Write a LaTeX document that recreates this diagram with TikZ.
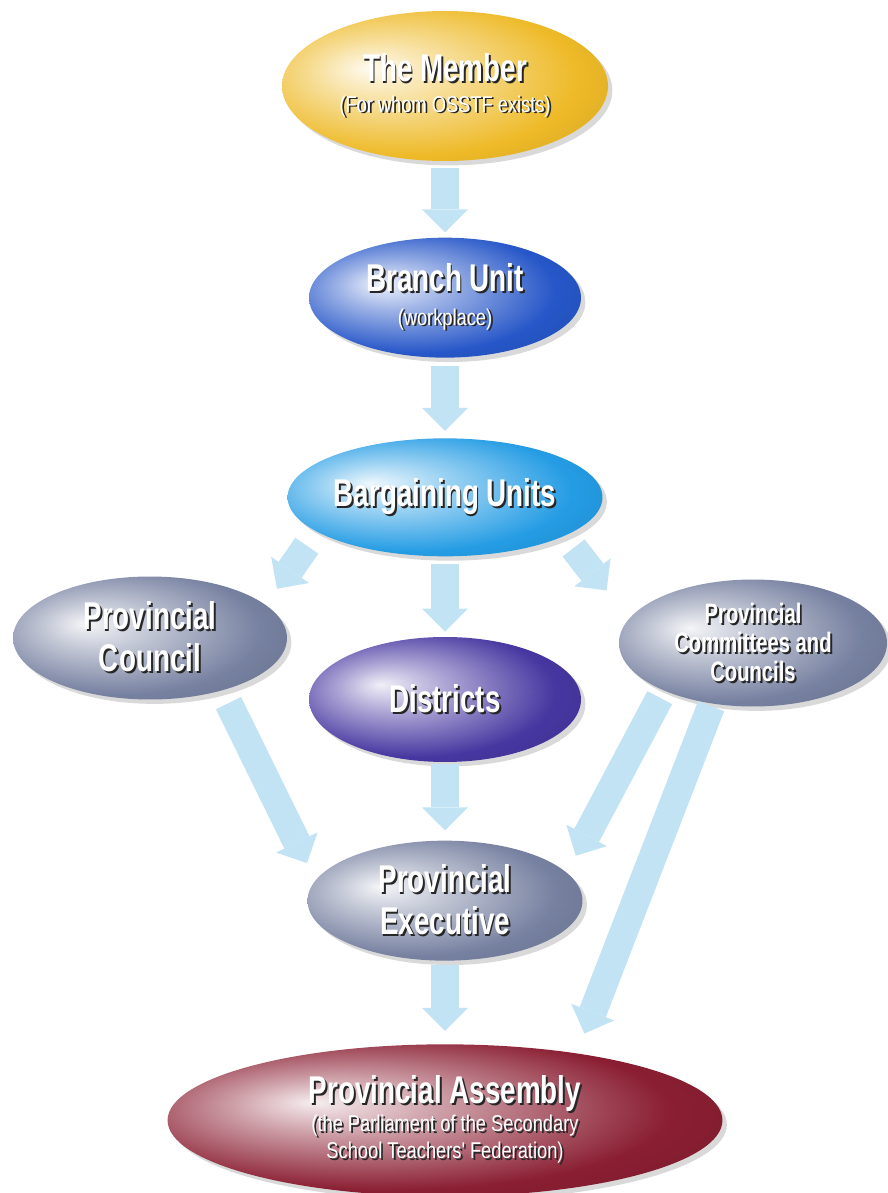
\documentclass[tikz,border=0pt]{standalone}
\usepackage{fontspec}
\setmainfont{Liberation Sans}
\newfontfamily\narrowfont[FakeStretch=0.72]{Liberation Sans}
\newfontfamily\subnarrowfont[FakeStretch=0.8]{Liberation Sans}
\usetikzlibrary{positioning,shapes.geometric,shadows,arrows.meta}

\definecolor{flowblue}{RGB}{194,227,243}
\definecolor{membergold}{RGB}{238,186,40}
\definecolor{branchblue}{RGB}{38,86,200}
\definecolor{bargainblue}{RGB}{36,156,228}
\definecolor{slategray}{RGB}{118,128,160}
\definecolor{districtpurple}{RGB}{70,54,160}
\definecolor{assemblyred}{RGB}{138,30,50}
\colorlet{ovalcol}{gray}
\pgfdeclareradialshading[ovalcol]{ovalshade}{\pgfpoint{-12bp}{6bp}}{%
  color(0bp)=(ovalcol!8!white); color(10bp)=(ovalcol!45!white);
  color(26bp)=(ovalcol); color(38bp)=(ovalcol!88!black);
  color(50bp)=(ovalcol!88!black)}

\newcommand{\embossed}[1]{\makebox[0pt][l]{\kern1.1pt\raisebox{-1.1pt}{\color{black!85}#1}}#1}
\newcommand{\titlefont}{\narrowfont\bfseries\fontsize{22}{24}\selectfont}
\newcommand{\smalltitlefont}{\narrowfont\bfseries\fontsize{16}{16.5}\selectfont}
\newcommand{\subfont}{\subnarrowfont\mdseries\fontsize{13}{15}\selectfont}

\begin{document}
\begin{tikzpicture}[x=0.02cm,y=-0.02cm,
  ovnode/.style={ellipse, draw=none, inner sep=0pt, text=white, align=center,
    font=\titlefont, shading=ovalshade,
    drop shadow={shadow xshift=2.5pt, shadow yshift=-2.5pt, opacity=0.3}},
  ovcol/.code={\colorlet{ovalcol}{#1}},
  flow/.style={draw=flowblue, line width=0.56cm,
    -{Triangle[width=0.92cm,length=0.46cm,line width=0pt]}}]
	\useasboundingbox (0,0) rectangle (887,1193);
	\node[ovnode, ovcol=membergold, minimum width=6.52cm, minimum height=3cm] (member) at (445,86)
		{\embossed{The Member}\\[-6.5pt] {\subfont\embossed{(For whom OSSTF exists)}}};
	\node[ovnode, ovcol=branchblue, minimum width=5.44cm, minimum height=2.4cm] (branch) [below = 1.52cm of member]
		{\embossed{Branch Unit}\\[-5pt] {\subfont\embossed{(workplace)}}};
	\node[ovnode, ovcol=bargainblue, minimum width=5.48cm, minimum height=2.36cm] (bargain) [below = 1.6cm of branch]
		{\embossed{Bargaining Units}};
	\node[ovnode, ovcol=districtpurple, minimum width=5.44cm, minimum height=2.5cm] (districts) [below = 1.6cm of bargain]
		{\embossed{Districts}};
	\node[ovnode, ovcol=slategray, minimum width=5.48cm, minimum height=2.46cm] (council) at (150,638)
		{\embossed{Provincial}\\ \embossed{Council}};
	\node[ovnode, ovcol=slategray, minimum width=5.36cm, minimum height=2.54cm, font=\smalltitlefont] (committees) at (753,643)
		{\embossed{Provincial}\\ \embossed{Committees and}\\ \embossed{Councils}};
	\node[ovnode, ovcol=slategray, minimum width=5.5cm, minimum height=2.4cm] (executive) [below = 1.56cm of districts]
		{\embossed{Provincial}\\ \embossed{Executive}};
	\node[ovnode, ovcol=assemblyred, minimum width=11.1cm, minimum height=3.04cm] (assembly) [below = 1.66cm of executive]
		{\embossed{Provincial Assembly}\\[-8pt] {\subfont\embossed{(the Parliament of the Secondary}}\\[-8.5pt]
		 {\subfont\embossed{School Teachers' Federation)}}};
	% arrows
	\draw[flow, shorten <=0.14cm, shorten >=0.1cm] (member.south) -- (branch.north);
	\draw[flow, shorten <=0.16cm, shorten >=0.14cm] (branch.south) -- (bargain.north);
	\draw[flow, shorten <=0.34cm, shorten >=0.39cm] (bargain.195) -- (council.16);
	\draw[flow, shorten <=0.14cm, shorten >=0.1cm] (bargain.south) -- (districts.north);
	\draw[flow, shorten <=0.3cm, shorten >=0.72cm] (bargain.342) -- (committees.169);
	\draw[flow, shorten <=0.28cm, shorten >=0.38cm] (council.324) -- (executive.171);
	\draw[flow, shorten <=0.04cm, shorten >=0.2cm] (districts.south) -- (executive.north);
	\draw[flow, shorten <=0.16cm, shorten >=0.38cm] (committees.208) -- (executive.13);
	\draw[flow, shorten <=0.05cm, shorten >=0.42cm] (committees.236) -- (assembly.27);
	\draw[flow, shorten <=0.08cm, shorten >=0.26cm] (executive.south) -- (assembly.north);
\end{tikzpicture}
\end{document}
